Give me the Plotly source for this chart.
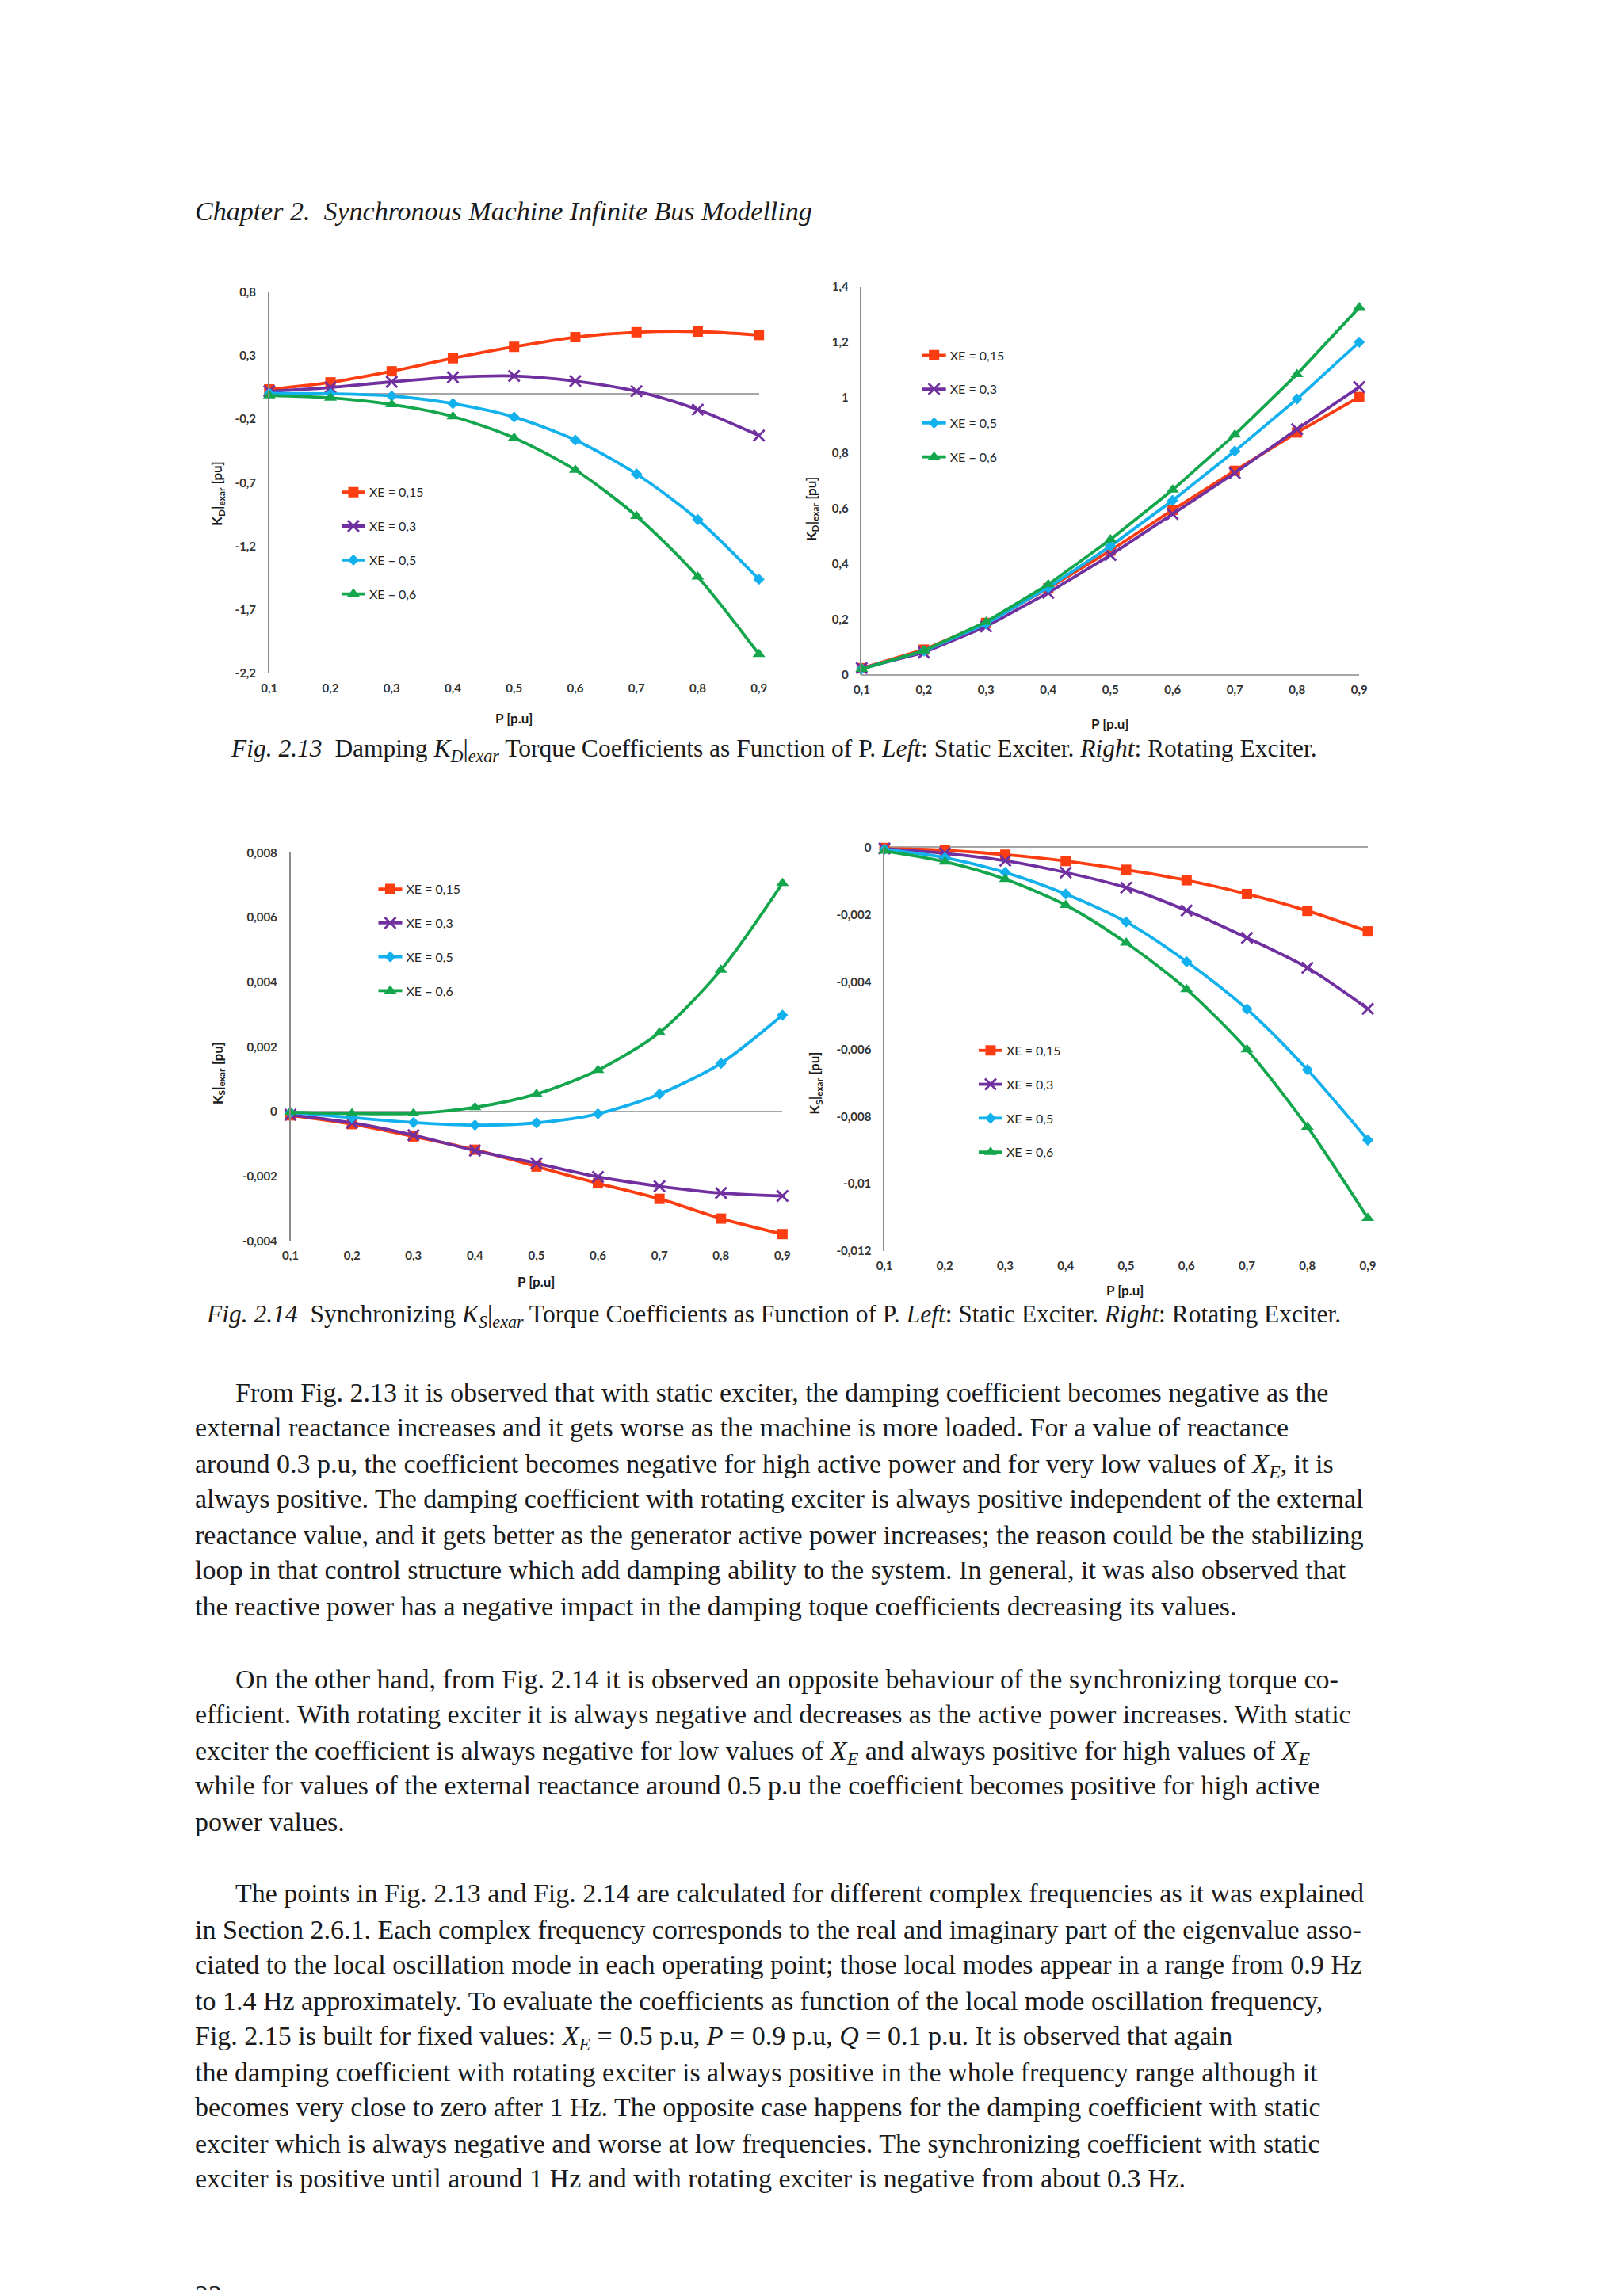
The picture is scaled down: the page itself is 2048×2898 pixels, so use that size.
import plotly.graph_objects as go

# page is rendered with the default 8px body margin, so the figure is 16px smaller
OFF = 8
FW, FH = 2048 - 2 * OFF, 2898 - 2 * OFF

# ---------------- data ----------------
P = [0.1, 0.2, 0.3, 0.4, 0.5, 0.6, 0.7, 0.8, 0.9]
series_names = ["XE = 0,15", "XE = 0,3", "XE = 0,5", "XE = 0,6"]

# Fig 2.13 left: damping coefficient, static exciter
kd_static_015 = [0.035, 0.09, 0.177, 0.28, 0.37, 0.446, 0.485, 0.49, 0.463]
kd_static_03 = [0.02, 0.05, 0.094, 0.13, 0.14, 0.10, 0.02, -0.124, -0.328]
kd_static_05 = [0.004, 0.0, -0.017, -0.077, -0.183, -0.364, -0.631, -0.99, -1.46]
kd_static_06 = [-0.013, -0.032, -0.084, -0.179, -0.347, -0.60, -0.963, -1.44, -2.05]

# Fig 2.13 right: damping coefficient, rotating exciter
kd_rot_015 = [0.024, 0.091, 0.187, 0.312, 0.448, 0.595, 0.736, 0.874, 1.002]
kd_rot_03 = [0.024, 0.08, 0.174, 0.296, 0.432, 0.58, 0.728, 0.886, 1.038]
kd_rot_05 = [0.022, 0.086, 0.184, 0.315, 0.464, 0.629, 0.807, 0.995, 1.2]
kd_rot_06 = [0.021, 0.087, 0.191, 0.326, 0.488, 0.667, 0.866, 1.084, 1.325]

# Fig 2.14 left: synchronizing coefficient, static exciter
ks_static_015 = [-0.00012, -0.00039, -0.00077, -0.00118, -0.0017, -0.00222, -0.0027, -0.00331, -0.00379]
ks_static_03 = [-0.0001, -0.00035, -0.00073, -0.00121, -0.0016, -0.00202, -0.00231, -0.00252, -0.00261]
ks_static_05 = [-0.00003, -0.00019, -0.00034, -0.00042, -0.00035, -0.00007, 0.00054, 0.00149, 0.00298]
ks_static_06 = [-0.00002, -0.00006, -0.00006, 0.00013, 0.00054, 0.00128, 0.00244, 0.00438, 0.00706]

# Fig 2.14 right: synchronizing coefficient, rotating exciter
ks_rot_015 = [-0.00002, -0.00009, -0.00022, -0.00041, -0.00067, -0.00098, -0.00139, -0.00189, -0.0025]
ks_rot_03 = [-0.00004, -0.00018, -0.0004, -0.00075, -0.0012, -0.00188, -0.00269, -0.00358, -0.0048]
ks_rot_05 = [-0.00006, -0.00031, -0.00075, -0.00139, -0.00222, -0.0034, -0.00481, -0.00661, -0.0087]
ks_rot_06 = [-0.00011, -0.00043, -0.00095, -0.00172, -0.00284, -0.00422, -0.00601, -0.00831, -0.01102]

x_tickvals = [0.1, 0.2, 0.3, 0.4, 0.5, 0.6, 0.7, 0.8, 0.9]
x_ticktext = ["0,1", "0,2", "0,3", "0,4", "0,5", "0,6", "0,7", "0,8", "0,9"]
y1_tickvals = [0.8, 0.3, -0.2, -0.7, -1.2, -1.7, -2.2]
y1_ticktext = ["0,8", "0,3", "-0,2", "-0,7", "-1,2", "-1,7", "-2,2"]
y2_tickvals = [0, 0.2, 0.4, 0.6, 0.8, 1.0, 1.2, 1.4]
y2_ticktext = ["0", "0,2", "0,4", "0,6", "0,8", "1", "1,2", "1,4"]
y3_tickvals = [-0.004, -0.002, 0, 0.002, 0.004, 0.006, 0.008]
y3_ticktext = ["-0,004", "-0,002", "0", "0,002", "0,004", "0,006", "0,008"]
y4_tickvals = [-0.012, -0.01, -0.008, -0.006, -0.004, -0.002, 0]
y4_ticktext = ["-0,012", "-0,01", "-0,008", "-0,006", "-0,004", "-0,002", "0"]

# ---------------- style ----------------
colors = ["#fc3d12", "#7030a0", "#12b0ec", "#14a64c"]
markers = [
    dict(symbol="square", size=13),
    dict(symbol="x-thin", size=14, line=dict(width=2.8)),
    dict(symbol="diamond", size=11),
    dict(symbol="triangle-up", size=14),
]
SANS = "Lato, Open Sans, sans-serif"
SERIF = "Liberation Serif, Times New Roman, serif"
TICKFONT = dict(family=SANS, size=15, color="#333333", weight="bold")

fig = go.Figure()

charts = [
    dict(data=[kd_static_015, kd_static_03, kd_static_05, kd_static_06], shape="spline"),
    dict(data=[kd_rot_015, kd_rot_03, kd_rot_05, kd_rot_06], shape="linear"),
    dict(data=[ks_static_015, ks_static_03, ks_static_05, ks_static_06], shape="spline"),
    dict(data=[ks_rot_015, ks_rot_03, ks_rot_05, ks_rot_06], shape="spline"),
]

for ci, ch in enumerate(charts):
    sfx = "" if ci == 0 else str(ci + 1)
    for si, ys in enumerate(ch["data"]):
        m = dict(markers[si])
        m["color"] = colors[si]
        if "line" in m:
            m["line"] = dict(m["line"], color=colors[si])
        fig.add_trace(go.Scatter(
            x=P, y=ys, mode="lines+markers", name=series_names[si],
            line=dict(color=colors[si], width=3.8, shape=ch["shape"], smoothing=0.8),
            marker=m,
            xaxis="x" + sfx, yaxis="y" + sfx,
            legend="legend" + sfx, legendgroup=f"c{ci}s{si}",
            cliponaxis=False,
        ))


def px_x(x):
    return (x - OFF) / FW


def px_y(y):
    return 1 - (y - OFF) / FH


def xd(a, b):
    return [px_x(a), px_x(b)]


def yd(top, bottom):
    return [px_y(bottom), px_y(top)]


# plot areas (page pixels)
areas = [
    dict(x0=333, x1=957, top=361, bot=845, yr=[-2.2, 0.8], tv=y1_tickvals, tt=y1_ticktext),
    dict(x0=1088, x1=1722, top=354, bot=847, yr=[0, 1.4], tv=y2_tickvals, tt=y2_ticktext),
    dict(x0=360, x1=987, top=1073, bot=1566, yr=[-0.004, 0.008], tv=y3_tickvals, tt=y3_ticktext),
    dict(x0=1117, x1=1733, top=1066, bot=1579, yr=[-0.012, 0], tv=y4_tickvals, tt=y4_ticktext),
]

layout = dict(
    width=FW, height=FH, margin=dict(l=0, r=0, t=0, b=0),
    paper_bgcolor="white", plot_bgcolor="rgba(0,0,0,0)",
    showlegend=True,
)

for i, a in enumerate(areas):
    sfx = "" if i == 0 else str(i + 1)
    layout["xaxis" + sfx] = dict(
        domain=xd(a["x0"], a["x1"]), anchor="y" + sfx, range=[0.1, 0.9],
        tickvals=x_tickvals, ticktext=x_ticktext, tickfont=TICKFONT,
        showgrid=False, zeroline=False, showline=False, ticks="",
        ticklabelstandoff=8, fixedrange=True,
    )
    layout["yaxis" + sfx] = dict(
        domain=yd(a["top"], a["bot"]), anchor="x" + sfx, range=a["yr"],
        tickvals=a["tv"], ticktext=a["tt"], tickfont=TICKFONT,
        showgrid=False, showline=True, linecolor="#8c8c8c", linewidth=1.5,
        zeroline=True, zerolinecolor="#a6a6a6", zerolinewidth=1.5,
        ticks="", ticklabelstandoff=12, fixedrange=True,
    )

legend_pos = [(420, 598), (1160, 424), (467, 1102), (1232, 1307)]
for i, (lx, ly) in enumerate(legend_pos):
    key = "legend" if i == 0 else "legend" + str(i + 1)
    layout[key] = dict(
        x=px_x(lx), y=px_y(ly), xanchor="left", yanchor="top",
        bgcolor="rgba(0,0,0,0)", font=dict(family=SANS, size=16, color="#262626"),
        tracegroupgap=19, itemwidth=30, traceorder="grouped",
    )

fig.update_layout(**layout)

annotations = []


def add_text(text, x, y, size, xanchor="left", yanchor="middle", angle=0,
             family=SERIF, color="#1a1a1a", weight="normal"):
    annotations.append(dict(
        text=text, x=px_x(x), y=px_y(y), xref="paper", yref="paper",
        xanchor=xanchor, yanchor=yanchor, showarrow=False, textangle=angle,
        font=dict(family=family, size=size, color=color, weight=weight),
    ))


def add_line(text, x, yc, size, xanchor="left"):
    # anchor at the top so that lines with subscripts keep the same baseline
    add_text(text, x, yc - (0.56 * size + 1), size, xanchor=xanchor, yanchor="top")


# axis titles
for (tx, ty) in [(645, 902), (1404, 909), (673, 1618), (1423, 1629)]:
    add_text("P [p.u]", tx, ty, 17, xanchor="center", family=SANS, weight="bold")
ytitle_D = "K<sub>D</sub>|<sub>exar</sub> [pu]"
ytitle_S = "K<sub>S</sub>|<sub>exar</sub> [pu]"
add_text(ytitle_D, 268, 617, 17, xanchor="center", angle=-90, family=SANS, weight="bold")
add_text(ytitle_D, 1025, 636, 17, xanchor="center", angle=-90, family=SANS, weight="bold")
add_text(ytitle_S, 268, 1353, 17, xanchor="center", angle=-90, family=SANS, weight="bold")
add_text(ytitle_S, 1029, 1365, 17, xanchor="center", angle=-90, family=SANS, weight="bold")

LEFT = 236
INDENT = 288

# header
add_line("<i>Chapter 2.  Synchronous Machine Infinite Bus Modelling</i>", LEFT, 257, 34)

# captions
add_line("<i>Fig. 2.13</i>\u2002Damping <i>K<sub>D</sub></i>|<sub><i>exar</i></sub> Torque Coefficients as Function of P. "
         "<i>Left</i>: Static Exciter. <i>Right</i>: Rotating Exciter.", 976, 939, 31.5, xanchor="center")
add_line("<i>Fig. 2.14</i>\u2002Synchronizing <i>K<sub>S</sub></i>|<sub><i>exar</i></sub> Torque Coefficients as Function of P. "
         "<i>Left</i>: Static Exciter. <i>Right</i>: Rotating Exciter.", 976, 1658, 31.5, xanchor="center")

XE = "<i>X<sub>E</sub></i>"
body = [
    (950, True, "From Fig. 2.13 it is observed that with static exciter, the damping coefficient becomes negative as the"),
    (974, False, "external reactance increases and it gets worse as the machine is more loaded. For a value of reactance"),
    (999, False, "around 0.3 p.u, the coefficient becomes negative for high active power and for very low values of " + XE + ", it is"),
    (1023, False, "always positive. The damping coefficient with rotating exciter is always positive independent of the external"),
    (1048, False, "reactance value, and it gets better as the generator active power increases; the reason could be the stabilizing"),
    (1072, False, "loop in that control structure which add damping ability to the system. In general, it was also observed that"),
    (1097, False, "the reactive power has a negative impact in the damping toque coefficients decreasing its values."),
    (1147, True, "On the other hand, from Fig. 2.14 it is observed an opposite behaviour of the synchronizing torque co-"),
    (1171, False, "efficient. With rotating exciter it is always negative and decreases as the active power increases. With static"),
    (1196, False, "exciter the coefficient is always negative for low values of " + XE + " and always positive for high values of " + XE),
    (1220, False, "while for values of the external reactance around 0.5 p.u the coefficient becomes positive for high active"),
    (1245, False, "power values."),
    (1294, True, "The points in Fig. 2.13 and Fig. 2.14 are calculated for different complex frequencies as it was explained"),
    (1319, False, "in Section 2.6.1. Each complex frequency corresponds to the real and imaginary part of the eigenvalue asso-"),
    (1343, False, "ciated to the local oscillation mode in each operating point; those local modes appear in a range from 0.9 Hz"),
    (1368, False, "to 1.4 Hz approximately. To evaluate the coefficients as function of the local mode oscillation frequency,"),
    (1392, False, "Fig. 2.15 is built for fixed values: " + XE + " = 0.5 p.u, <i>P</i> = 0.9 p.u, <i>Q</i> = 0.1 p.u. It is observed that again"),
    (1417, False, "the damping coefficient with rotating exciter is always positive in the whole frequency range although it"),
    (1441, False, "becomes very close to zero after 1 Hz. The opposite case happens for the damping coefficient with static"),
    (1466, False, "exciter which is always negative and worse at low frequencies. The synchronizing coefficient with static"),
    (1490, False, "exciter is positive until around 1 Hz and with rotating exciter is negative from about 0.3 Hz."),
]
for ys, indent, txt in body:
    add_line(txt, INDENT if indent else LEFT, ys * 2898 / 1568 + 2, 34)

# page number, mostly cut off at the bottom edge of the page
add_line("22", LEFT, 2904, 34)

fig.update_layout(annotations=annotations)
fig.write_html("out.html")
